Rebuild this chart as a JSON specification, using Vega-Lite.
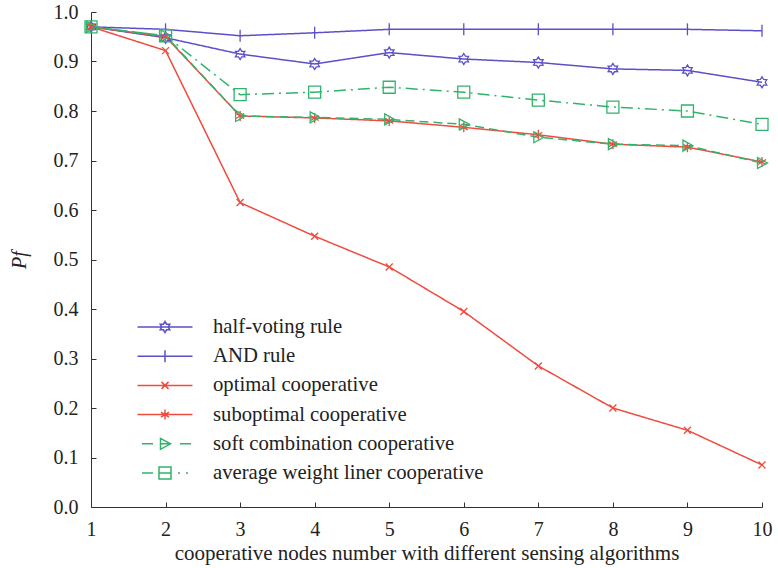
{
  "$schema": "https://vega.github.io/schema/vega-lite/v6.json",
  "autosize": {"type": "none"},
  "padding": {"left": 91, "top": 12, "right": 16, "bottom": 61},
  "width": 671,
  "height": 495,
  "background": "white",
  "config": {
    "view": {"stroke": null},
    "font": "Liberation Serif",
    "axis": {
      "grid": false,
      "domainColor": "#333",
      "tickColor": "#333",
      "labelColor": "#222",
      "titleColor": "#222",
      "labelFont": "Liberation Serif",
      "titleFont": "Liberation Serif",
      "labelFontSize": 20,
      "titleFontSize": 20,
      "titleFontWeight": "normal",
      "tickSize": -5
    },
    "legend": {
      "labelFont": "Liberation Serif",
      "labelFontSize": 20.7,
      "labelColor": "#222"
    }
  },
  "resolve": {"scale": {"shape": "independent", "strokeDash": "independent"}},
  "data": {
    "values": [
      {"x": 1, "series": "half-voting rule", "y": 0.970},
      {"x": 2, "series": "half-voting rule", "y": 0.948},
      {"x": 3, "series": "half-voting rule", "y": 0.915},
      {"x": 4, "series": "half-voting rule", "y": 0.895},
      {"x": 5, "series": "half-voting rule", "y": 0.918},
      {"x": 6, "series": "half-voting rule", "y": 0.905},
      {"x": 7, "series": "half-voting rule", "y": 0.898},
      {"x": 8, "series": "half-voting rule", "y": 0.885},
      {"x": 9, "series": "half-voting rule", "y": 0.882},
      {"x": 10, "series": "half-voting rule", "y": 0.858},
      {"x": 1, "series": "AND rule", "y": 0.970},
      {"x": 2, "series": "AND rule", "y": 0.965},
      {"x": 3, "series": "AND rule", "y": 0.952},
      {"x": 4, "series": "AND rule", "y": 0.958},
      {"x": 5, "series": "AND rule", "y": 0.965},
      {"x": 6, "series": "AND rule", "y": 0.965},
      {"x": 7, "series": "AND rule", "y": 0.965},
      {"x": 8, "series": "AND rule", "y": 0.965},
      {"x": 9, "series": "AND rule", "y": 0.965},
      {"x": 10, "series": "AND rule", "y": 0.962},
      {"x": 1, "series": "optimal cooperative", "y": 0.970},
      {"x": 2, "series": "optimal cooperative", "y": 0.922},
      {"x": 3, "series": "optimal cooperative", "y": 0.615},
      {"x": 4, "series": "optimal cooperative", "y": 0.547},
      {"x": 5, "series": "optimal cooperative", "y": 0.485},
      {"x": 6, "series": "optimal cooperative", "y": 0.395},
      {"x": 7, "series": "optimal cooperative", "y": 0.285},
      {"x": 8, "series": "optimal cooperative", "y": 0.200},
      {"x": 9, "series": "optimal cooperative", "y": 0.155},
      {"x": 10, "series": "optimal cooperative", "y": 0.085},
      {"x": 1, "series": "suboptimal cooperative", "y": 0.970},
      {"x": 2, "series": "suboptimal cooperative", "y": 0.950},
      {"x": 3, "series": "suboptimal cooperative", "y": 0.790},
      {"x": 4, "series": "suboptimal cooperative", "y": 0.786},
      {"x": 5, "series": "suboptimal cooperative", "y": 0.780},
      {"x": 6, "series": "suboptimal cooperative", "y": 0.767},
      {"x": 7, "series": "suboptimal cooperative", "y": 0.752},
      {"x": 8, "series": "suboptimal cooperative", "y": 0.733},
      {"x": 9, "series": "suboptimal cooperative", "y": 0.727},
      {"x": 10, "series": "suboptimal cooperative", "y": 0.697},
      {"x": 1, "series": "soft combination cooperative", "y": 0.970},
      {"x": 2, "series": "soft combination cooperative", "y": 0.952},
      {"x": 3, "series": "soft combination cooperative", "y": 0.790},
      {"x": 4, "series": "soft combination cooperative", "y": 0.787},
      {"x": 5, "series": "soft combination cooperative", "y": 0.783},
      {"x": 6, "series": "soft combination cooperative", "y": 0.773},
      {"x": 7, "series": "soft combination cooperative", "y": 0.747},
      {"x": 8, "series": "soft combination cooperative", "y": 0.733},
      {"x": 9, "series": "soft combination cooperative", "y": 0.730},
      {"x": 10, "series": "soft combination cooperative", "y": 0.695},
      {"x": 1, "series": "average weight liner cooperative", "y": 0.970},
      {"x": 2, "series": "average weight liner cooperative", "y": 0.952},
      {"x": 3, "series": "average weight liner cooperative", "y": 0.833},
      {"x": 4, "series": "average weight liner cooperative", "y": 0.838},
      {"x": 5, "series": "average weight liner cooperative", "y": 0.848},
      {"x": 6, "series": "average weight liner cooperative", "y": 0.838},
      {"x": 7, "series": "average weight liner cooperative", "y": 0.822},
      {"x": 8, "series": "average weight liner cooperative", "y": 0.808},
      {"x": 9, "series": "average weight liner cooperative", "y": 0.800},
      {"x": 10, "series": "average weight liner cooperative", "y": 0.773}
    ]
  },
  "encoding": {
    "x": {
      "field": "x", "type": "quantitative",
      "scale": {"domain": [1, 10], "nice": false, "zero": false},
      "axis": {"values": [1,2,3,4,5,6,7,8,9,10], "format": "d", "labelPadding": 17, "labelFlush": false, "title": "cooperative nodes number with different sensing algorithms", "titlePadding": 3, "titleFontSize": 21}
    },
    "y": {
      "field": "y", "type": "quantitative",
      "scale": {"domain": [0, 1], "nice": false},
      "axis": {"values": [0,0.1,0.2,0.3,0.4,0.5,0.6,0.7,0.8,0.9,1.0], "format": ".1f", "labelPadding": 18, "labelFlush": false, "title": "Pf", "titleFontStyle": "italic", "titlePadding": 24}
    },
    "color": {
      "field": "series", "type": "nominal",
      "scale": {
        "domain": ["half-voting rule", "AND rule", "optimal cooperative", "suboptimal cooperative", "soft combination cooperative", "average weight liner cooperative"],
        "range": ["#5B50C8", "#5B50C8", "#F04B3F", "#F04B3F", "#30B46C", "#30B46C"]
      },
      "legend": {
        "title": null,
        "orient": "none",
        "legendX": 63,
        "legendY": 304,
        "padding": 0,
        "symbolType": "circle",
        "symbolSize": 400,
        "symbolStrokeWidth": 1.5,
        "symbolOffset": 0,
        "labelOffset": 37,
        "labelLimit": 500,
        "rowPadding": 8.2,
        "symbolFillColor": "transparent",
        "encode": {
          "symbols": {
            "update": {
              "strokeDash": {"value": []},
              "fill": {"value": "transparent"},
              "shape": {"signal": "datum.value === 'half-voting rule' ? 'M-2.75,0L2.75,0M0,-0.55L0.16,-0.28L0.48,-0.28L0.33,0L0.48,0.28L0.16,0.28L0,0.55L-0.16,0.28L-0.48,0.28L-0.33,0L-0.48,-0.28L-0.16,-0.28Z' : datum.value === 'AND rule' ? 'M-2.75,0L2.75,0M0,-0.6L0,0.6' : datum.value === 'optimal cooperative' ? 'M-2.75,0L2.75,0M-0.35,-0.35L0.35,0.35M-0.35,0.35L0.35,-0.35' : datum.value === 'suboptimal cooperative' ? 'M-2.75,0L2.75,0M0,-0.5L0,0.5M-0.4,-0.25L0.4,0.25M-0.4,0.25L0.4,-0.25' : datum.value === 'soft combination cooperative' ? 'M-2.3,0L-1.2,0M-0.5,0L0.5,0M1.5,0L2.6,0M-0.45,-0.55L0.55,0L-0.45,0.55Z' : 'M-2.3,0L-1.2,0M-0.6,0L0.6,0M1.3,0L1.5,0M2.1,0L2.3,0M-0.6,-0.6L0.6,-0.6L0.6,0.6L-0.6,0.6Z'"}
            }
          }
        }
      }
    }
  },
  "layer": [
    {
      "mark": {"type": "line", "strokeWidth": 1.5},
      "encoding": {
        "strokeDash": {
          "field": "series", "type": "nominal",
          "scale": {
            "domain": ["half-voting rule", "AND rule", "optimal cooperative", "suboptimal cooperative", "soft combination cooperative", "average weight liner cooperative"],
            "range": [[1, 0], [1, 0], [1, 0], [1, 0], [9, 5], [12, 5, 2, 5]]
          },
          "legend": null
        }
      }
    },
    {
      "mark": {"type": "point", "filled": false, "size": 100, "strokeWidth": 1.3, "opacity": 1},
      "encoding": {
        "shape": {
          "field": "series", "type": "nominal",
          "scale": {
            "domain": ["half-voting rule", "AND rule", "optimal cooperative", "suboptimal cooperative", "soft combination cooperative", "average weight liner cooperative"],
            "range": [
              "M0,-1.1L0.325,-0.563L0.953,-0.55L0.65,0L0.953,0.55L0.325,0.563L0,1.1L-0.325,0.563L-0.953,0.55L-0.65,0L-0.953,-0.55L-0.325,-0.563Z",
              "M0,-1.2L0,1.2",
              "M-0.7,-0.7L0.7,0.7M-0.7,0.7L0.7,-0.7",
              "M0,-1L0,1M-0.8,-0.5L0.8,0.5M-0.8,0.5L0.8,-0.5",
              "M-0.9,-1.1L1.1,0L-0.9,1.1Z",
              "M-1.2,-1.2L1.2,-1.2L1.2,1.2L-1.2,1.2Z"
            ]
          },
          "legend": null
        }
      }
    }
  ]
}
